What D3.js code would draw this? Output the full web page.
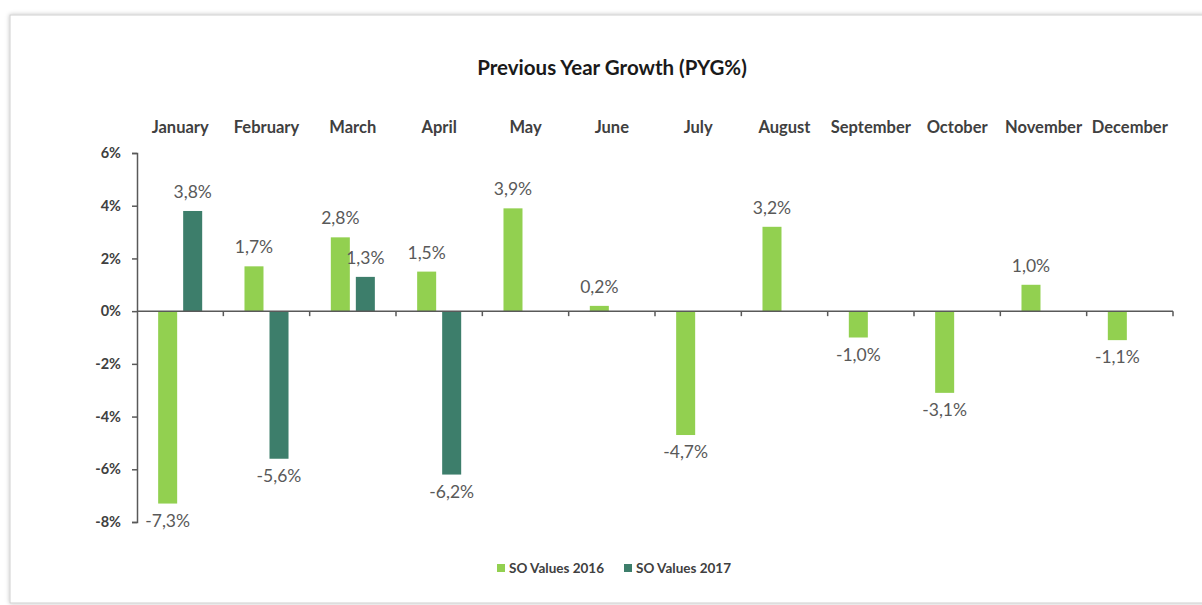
<!DOCTYPE html>
<html>
<head>
<meta charset="utf-8">
<script src="https://cdn.jsdelivr.net/npm/d3@7"></script>
<style>
  body { margin: 0; background: #fff; }
  svg { display: block; font-family: Lato, "Open Sans", sans-serif; }
</style>
</head>
<body>
<svg id="chart" width="1202" height="605"></svg>
<script>
// chart data
const months = ["January", "February", "March", "April", "May", "June",
  "July", "August", "September", "October", "November", "December"];
const values2016 = [-7.3, 1.7, 2.8, 1.5, 3.9, 0.2, -4.7, 3.2, -1.0, -3.1, 1.0, -1.1];
const values2017 = [3.8, -5.6, 1.3, -6.2, null, null, null, null, null, null, null, null];
const seriesNames = ["SO Values 2016", "SO Values 2017"];
const yTicks = [-8, -6, -4, -2, 0, 2, 4, 6];

const colours = { "SO Values 2016": "#92d050", "SO Values 2017": "#3d7e6b" };

const svg = d3.select("#chart");

// frame with soft shadow
const defs = svg.append("defs");
const shadow = defs.append("filter").attr("id", "shadow")
  .attr("x", "-5%").attr("y", "-5%").attr("width", "110%").attr("height", "110%");
shadow.append("feDropShadow").attr("dx", 0).attr("dy", 0)
  .attr("stdDeviation", 2).attr("flood-color", "#000").attr("flood-opacity", 0.25);

svg.append("rect")
  .attr("x", 10).attr("y", 15).attr("width", 1210).attr("height", 588)
  .attr("fill", "#fff").attr("stroke", "#cfcfcf")
  .attr("filter", "url(#shadow)");

// scales
const x = d3.scaleBand().domain(months).range([137, 1173]).padding(0);
const bw = x.bandwidth();
const xs = d3.scaleBand().domain(seriesNames)
  .range([bw * 0.245, bw * 0.755]).paddingInner(0.24);
const y = d3.scaleLinear().domain([-8, 6]).range([522, 153]);

// title
svg.append("text")
  .attr("x", 612).attr("y", 75)
  .attr("text-anchor", "middle")
  .attr("font-size", 20.5).attr("font-weight", "bold").attr("fill", "#1a1a1a")
  .text("Previous Year Growth (PYG%)");

// month labels along the top
svg.append("g").selectAll("text")
  .data(months).enter().append("text")
  .attr("x", d => x(d) + bw / 2)
  .attr("y", 133)
  .attr("text-anchor", "middle")
  .attr("font-size", 16.5).attr("font-weight", "bold").attr("fill", "#404040")
  .text(d => d);

// y axis
const yAxis = svg.append("g")
  .attr("transform", `translate(${x.range()[0]},0)`)
  .call(d3.axisLeft(y).tickValues(yTicks).tickSize(5).tickSizeOuter(5)
    .tickFormat(d => d + "%"));
yAxis.select(".domain").attr("stroke", "#595959").attr("stroke-width", 1.5);
yAxis.selectAll(".tick line").attr("stroke", "#595959").attr("stroke-width", 1.5);
yAxis.selectAll(".tick text")
  .attr("x", -16)
  .attr("font-family", "Lato, 'Open Sans', sans-serif")
  .attr("font-size", 14.5).attr("font-weight", "bold").attr("fill", "#404040");

// bars
const rows = [];
months.forEach((m, i) => {
  [values2016[i], values2017[i]].forEach((v, j) => {
    if (v !== null) rows.push({ month: m, series: seriesNames[j], value: v });
  });
});

svg.append("g").selectAll("rect")
  .data(rows).enter().append("rect")
  .attr("x", d => x(d.month) + xs(d.series))
  .attr("width", xs.bandwidth())
  .attr("y", d => y(Math.max(0, d.value)))
  .attr("height", d => Math.abs(y(d.value) - y(0)))
  .attr("fill", d => colours[d.series]);

// x axis at zero, ticks on category boundaries
const xAxis = svg.append("g");
xAxis.append("line")
  .attr("x1", x.range()[0]).attr("x2", x.range()[1])
  .attr("y1", y(0)).attr("y2", y(0))
  .attr("stroke", "#595959").attr("stroke-width", 1.5);
xAxis.selectAll(".xtick")
  .data(months.slice(1).map(m => x(m)).concat([x.range()[1]]))
  .enter().append("line").attr("class", "xtick")
  .attr("x1", d => d).attr("x2", d => d)
  .attr("y1", y(0)).attr("y2", y(0) + 5)
  .attr("stroke", "#595959").attr("stroke-width", 1.5);

// value labels
const fmt = v => v.toFixed(1).replace(".", ",") + "%";
svg.append("g").selectAll("text")
  .data(rows).enter().append("text")
  .attr("x", d => x(d.month) + xs(d.series) + xs.bandwidth() / 2)
  .attr("y", d => d.value >= 0 ? y(d.value) - 13 : y(d.value) + 23)
  .attr("text-anchor", "middle")
  .attr("font-size", 17.5).attr("fill", "#595959")
  .text(d => fmt(d.value));

// legend
const legend = svg.append("g").attr("transform", "translate(497,568)");
const item = legend.selectAll("g")
  .data(seriesNames).enter().append("g")
  .attr("transform", (d, i) => `translate(${i * 127},0)`);
item.append("rect")
  .attr("x", 0).attr("y", -4).attr("width", 8).attr("height", 8)
  .attr("fill", d => colours[d]);
item.append("text")
  .attr("x", 12).attr("y", 5)
  .attr("font-size", 13.5).attr("font-weight", "bold").attr("fill", "#404040")
  .text(d => d);
</script>
</body>
</html>
